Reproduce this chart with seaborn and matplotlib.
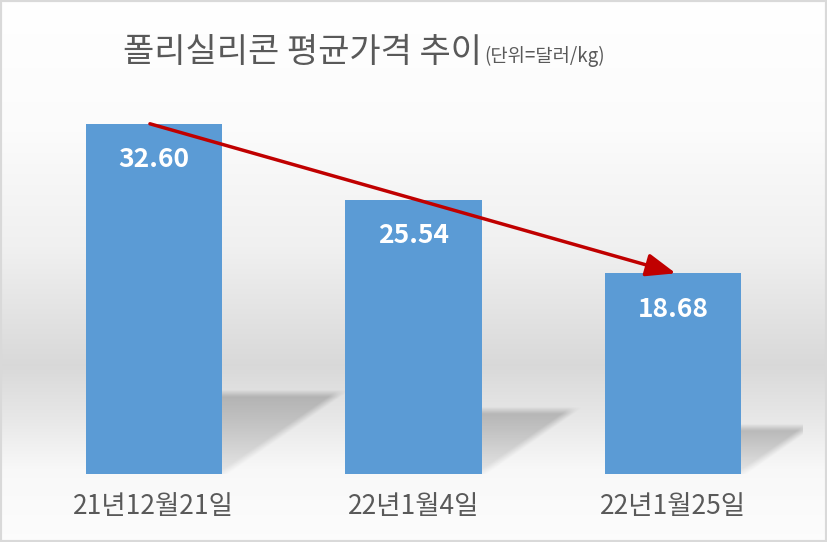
import numpy as np
import pandas as pd
import seaborn as sns
import matplotlib.pyplot as plt
from matplotlib.patches import Rectangle

# data
dates = ['21년12월21일', '22년1월4일', '22년1월25일']
prices = [32.60, 25.54, 18.68]
title_main = '폴리실리콘 평균가격 추이'
title_unit = '(단위=달러/kg)'

sns.set_style('white')
plt.rcParams['font.family'] = ['Noto Sans CJK KR', 'DejaVu Sans']

df = pd.DataFrame({'date': dates, 'price': prices})

W, H = 827, 542
fig = plt.figure(figsize=(W / 100, H / 100), dpi=100)

# background gradient (white -> grey band -> white)
bg = fig.add_axes([0, 0, 1, 1], zorder=0)
rows = np.arange(H)
shade = np.interp(rows, [0, 130, 250, 365, 420, 470, 542],
                  [1.0, 0.985, 0.94, 0.85, 0.91, 0.975, 0.99])
img = np.repeat(shade[:, None], 10, axis=1)
bg.imshow(np.dstack([img, img, img]), aspect='auto', extent=[0, 1, 0, 1])
bg.axis('off')

ax = fig.add_axes([24 / W, 68 / H, 779 / W, 376 / H], zorder=1)
ax.patch.set_alpha(0)
sns.barplot(data=df, x='date', y='price', color='#5B9BD5', saturation=1,
            width=0.525, ax=ax, zorder=3, linewidth=0, edgecolor='none')

# soft perspective shadows behind bars
px_per_y = 376 / 35
px_per_x = 779 / 3
blur = 7.0
for p in ax.patches:
    x0, w, h = p.get_x(), p.get_width(), p.get_height()
    sh_px = 0.23 * h * px_per_y
    dx_px = 1.45 * sh_px
    w_px = w * px_per_x
    m = 12
    uu = np.linspace(0, w_px + dx_px + m, 200)
    vv = np.linspace(0, sh_px + m, 120)
    U, V = np.meshgrid(uu, vv)
    norm = np.hypot(sh_px, dx_px)
    d_left = (U * sh_px - V * dx_px) / norm
    d_right = ((w_px - U) * sh_px + V * dx_px) / norm
    d_top = sh_px - V
    soft = lambda d: np.clip(d / blur + 0.5, 0, 1)
    alpha = soft(d_left) * soft(d_right) * soft(d_top)
    alpha *= np.clip(0.15 + 0.33 * V / sh_px, 0, 0.48)
    rgba = np.zeros(U.shape + (4,))
    rgba[..., :3] = 0.5
    rgba[..., 3] = alpha
    ax.imshow(rgba, origin='lower', aspect='auto', zorder=2,
              extent=[x0, x0 + (w_px + dx_px + m) / px_per_x, 0,
                      (sh_px + m) / px_per_y], interpolation='bilinear')

for i, v in enumerate(prices):
    ax.annotate(f'{v:.2f}', (i, v), xytext=(0, -26), textcoords='offset points',
                ha='center', va='center', color='white', fontsize=19,
                fontweight='bold', zorder=5)

ax.annotate('', xy=(2.01, prices[2]), xytext=(-0.015, prices[0]),
            arrowprops=dict(arrowstyle='-|>,head_length=0.9,head_width=0.35',
                            color='#C00000', lw=2.5, shrinkA=0, shrinkB=0,
                            mutation_scale=20), zorder=6)

ax.set_xlim(-0.5, 2.5)
ax.set_ylim(0, 35)
ax.set_xlabel('')
ax.set_ylabel('')
ax.set_yticks([])
sns.despine(ax=ax, left=True, bottom=True)
ax.tick_params(axis='x', length=0, pad=14, labelsize=19, labelcolor='#595959')

# title in two sizes, centred as a whole
t1 = fig.text(0, 1 - 62 / H, title_main, fontsize=24.5, color='#595959',
              ha='left', va='baseline')
t2 = fig.text(0, 1 - 62 / H, title_unit, fontsize=13.5, color='#595959',
              ha='left', va='baseline')
fig.canvas.draw()
r = fig.canvas.get_renderer()
w1 = t1.get_window_extent(renderer=r).width
w2 = t2.get_window_extent(renderer=r).width
left = 364 - (w1 + w2 + 2) / 2
t1.set_x(left / W)
t2.set_x((left + w1 + 2) / W)

fig.patches.append(Rectangle((0, 0), 1, 1, transform=fig.transFigure,
                             fill=False, edgecolor='#D9D9D9', lw=3))

fig.savefig('out.png', dpi=100)
